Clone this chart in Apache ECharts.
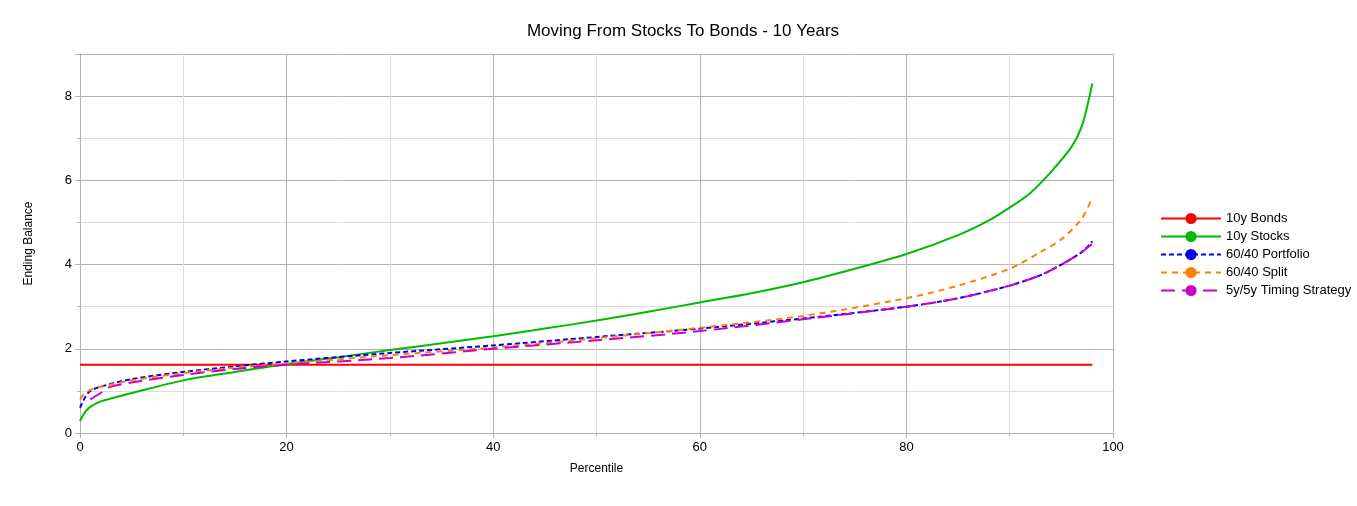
<!DOCTYPE html>
<html><head><meta charset="utf-8">
<script src="https://cdn.jsdelivr.net/npm/echarts@6/dist/echarts.min.js"></script>
<style>body{margin:0}#main{width:1357px;height:506px}</style>
</head><body><div id="main"></div>
<script>
var bonds=[[0,1.62],[98,1.62]];
var stocks=[[0,0.28],[0.5,0.5],[1,0.62],[2,0.75],[3,0.82],[5,0.95],[10,1.25],[15,1.45],[20,1.64],[25,1.8],[30,1.97],[35,2.13],[40,2.3],[45,2.48],[50,2.67],[55,2.88],[60,3.1],[65,3.32],[70,3.58],[75,3.9],[80,4.25],[85,4.7],[88,5.05],[90,5.35],[92,5.7],[94,6.2],[96,6.8],[97,7.3],[98,8.3]];
var portfolio=[[0,0.6],[0.5,0.85],[1,1.0],[2,1.1],[5,1.28],[10,1.45],[15,1.58],[20,1.7],[30,1.9],[40,2.08],[50,2.28],[60,2.48],[70,2.72],[80,3.0],[85,3.2],[90,3.5],[93,3.75],[95,4.0],[97,4.3],[98,4.55]];
var split=[[0,0.8],[0.5,0.95],[1,1.02],[2,1.1],[5,1.25],[10,1.42],[15,1.55],[20,1.65],[30,1.85],[40,2.03],[50,2.25],[60,2.5],[70,2.78],[80,3.2],[85,3.5],[90,3.9],[93,4.3],[95,4.6],[97,5.1],[98,5.6]];
var timing=[[1,0.8],[2,0.95],[3,1.1],[5,1.2],[10,1.38],[15,1.52],[20,1.62],[30,1.78],[40,2.0],[50,2.2],[60,2.42],[70,2.7],[80,3.0],[85,3.2],[90,3.5],[93,3.75],[95,4.0],[97,4.3],[98,4.5]];

var font='Liberation Sans';
function line(name,data,color,type){
  return {name:name,type:'line',data:data,symbol:'none',smooth:0.3,
    lineStyle:{color:color,width:2,type:type},itemStyle:{color:color}};
}
var chart=echarts.init(document.getElementById('main'));
chart.setOption({
  textStyle:{fontFamily:font},
  title:{text:'Moving From Stocks To Bonds - 10 Years',left:678,top:18,textAlign:'center',
    textStyle:{fontSize:17,fontWeight:'normal',color:'#000'}},
  legend:{orient:'vertical',left:1155,top:207,itemGap:5,itemWidth:60,itemHeight:14,
    textStyle:{fontSize:13,color:'#000'},
    data:['10y Bonds','10y Stocks','60/40 Portfolio','60/40 Split','5y/5y Timing Strategy']},
  grid:{left:80,right:244,top:54,bottom:73},
  xAxis:{type:'value',min:0,max:100,interval:20,name:'Percentile',nameLocation:'middle',nameGap:30,
    nameTextStyle:{fontSize:12,color:'#000'},
    axisLine:{lineStyle:{color:'#b3b3b3'}},axisTick:{show:true,lineStyle:{color:'#b3b3b3'}},
    axisLabel:{fontSize:13,color:'#000'},
    splitLine:{lineStyle:{color:'#b3b3b3'}},
    minorTick:{show:true,splitNumber:2,lineStyle:{color:'#b3b3b3'}},minorSplitLine:{show:true,lineStyle:{color:'#dddddd'}}},
  yAxis:{type:'value',min:0,max:9,interval:2,name:'Ending Balance',nameLocation:'middle',nameGap:45,
    nameTextStyle:{fontSize:12,color:'#000'},
    axisLine:{show:true,lineStyle:{color:'#b3b3b3'}},axisTick:{show:true,lineStyle:{color:'#b3b3b3'}},
    axisLabel:{fontSize:13,color:'#000',showMaxLabel:false},
    splitLine:{lineStyle:{color:'#b3b3b3'}},
    minorTick:{show:true,splitNumber:2,lineStyle:{color:'#b3b3b3'}},minorSplitLine:{show:true,lineStyle:{color:'#dddddd'}}},
  series:[
    line('10y Bonds',bonds,'#ff0000','solid'),
    line('10y Stocks',stocks,'#00bb00','solid'),
    line('60/40 Portfolio',portfolio,'#0000ee',[5,3]),
    line('60/40 Split',split,'#ff8000',[6,5]),
    line('5y/5y Timing Strategy',timing,'#cc00cc',[14,7])
  ]
});
</script></body></html>
